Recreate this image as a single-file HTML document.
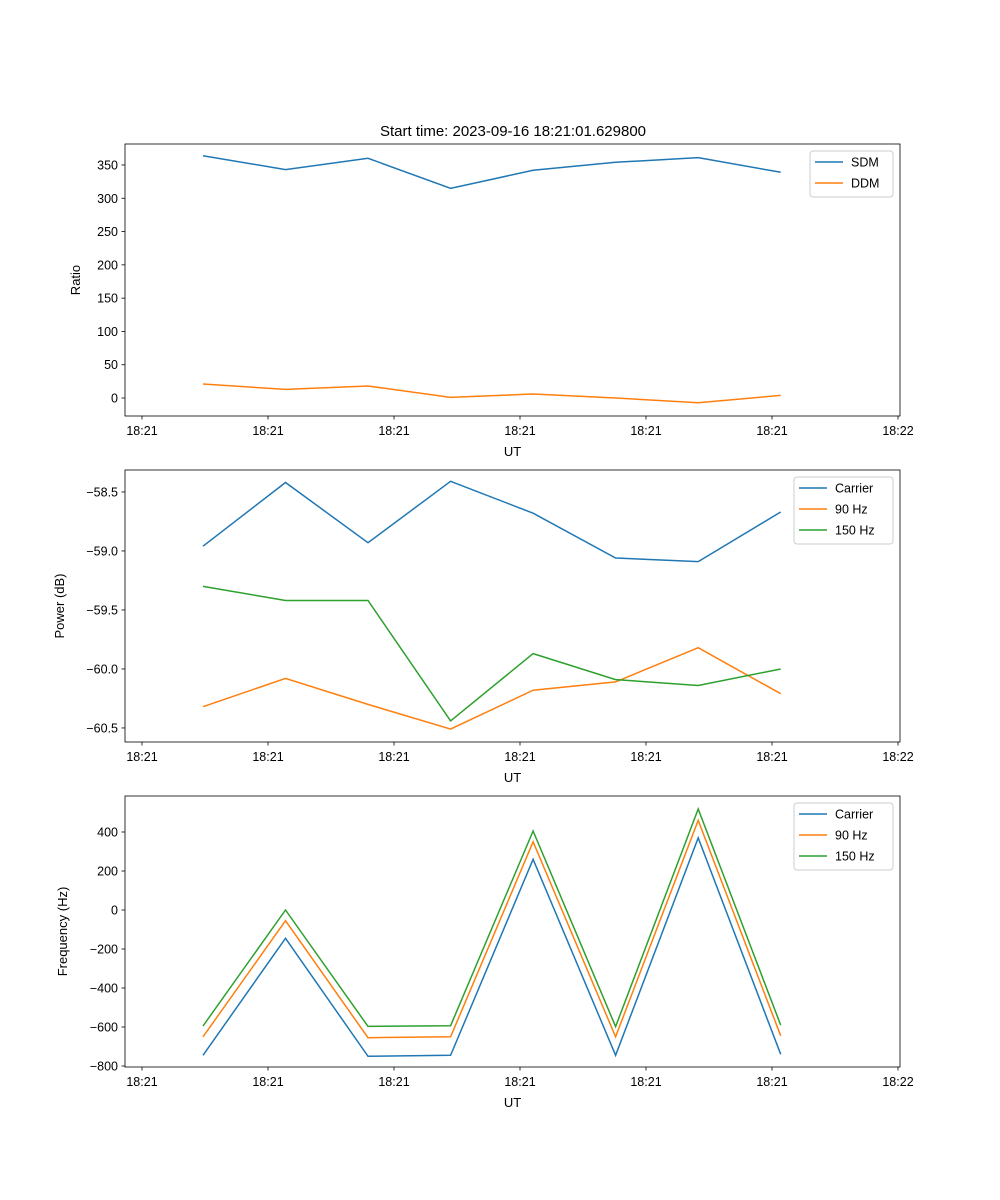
<!DOCTYPE html>
<html><head><meta charset="utf-8">
<style>
html,body{margin:0;padding:0;background:#fff;}
svg{display:block;font-family:"Liberation Sans","DejaVu Sans",sans-serif;}
</style></head>
<body>
<svg id="fig" width="1000" height="1200" viewBox="0 0 1000 1200" xmlns="http://www.w3.org/2000/svg">
<text x="513" y="136" font-size="15" text-anchor="middle">Start time: 2023-09-16 18:21:01.629800</text>
</svg>
<script>
// shared time axis (seconds after 18:21:00)
const times = [4.84, 11.39, 17.94, 24.49, 31.04, 37.59, 44.14, 50.69];
const xTickValues = [0, 10, 20, 30, 40, 50, 60];
const xTickLabels = ["18:21","18:21","18:21","18:21","18:21","18:21","18:22"];

// panel 1
const ratioTicks = [0, 50, 100, 150, 200, 250, 300, 350];
const sdm = [364, 343, 360, 315, 342, 354, 361, 339];
const ddm = [21, 13, 18, 1, 6, 0, -7, 4];
// panel 2
const powerTicks = [-58.5, -59.0, -59.5, -60.0, -60.5];
const powerTickLabels = ["\u221258.5","\u221259.0","\u221259.5","\u221260.0","\u221260.5"];
const powCarrier = [-58.96, -58.42, -58.93, -58.41, -58.68, -59.06, -59.09, -58.67];
const pow90 = [-60.32, -60.08, -60.30, -60.51, -60.18, -60.11, -59.82, -60.21];
const pow150 = [-59.30, -59.42, -59.42, -60.44, -59.87, -60.09, -60.14, -60.00];
// panel 3
const freqTicks = [400, 200, 0, -200, -400, -600, -800];
const freqCarrier = [-745, -145, -750, -745, 260, -745, 370, -740];
const freq90 = [-650, -55, -655, -650, 350, -650, 460, -645];
const freq150 = [-595, 0, -597, -593, 405, -598, 518, -590];

const NS = "http://www.w3.org/2000/svg";
const svg = document.getElementById('fig');
const C = ["#1f77b4", "#ff7f0e", "#2ca02c"];
function mk(tag, attrs, parent){
  const e = document.createElementNS(NS, tag);
  for (const k in attrs) e.setAttribute(k, attrs[k]);
  (parent||svg).appendChild(e); return e;
}
const L = 125, R = 900;
function xScale(t){ return 142 + t * 12.6; }

function panel(opt){
  const g = mk('g', {});
  
  
  const yS = v => opt.top + (opt.ymax - v) / (opt.ymax - opt.ymin) * (opt.bot - opt.top);
  opt.yticks.forEach((v, i) => {
    const y = yS(v);
    mk('line', {x1: L-3.5, x2: L, y1: y, y2: y, stroke: '#000', 'stroke-width': 0.8}, g);
    const t = mk('text', {x: L-7, y: y+4.5, 'font-size': 12.5, 'text-anchor': 'end'}, g);
    t.textContent = opt.ylabels ? opt.ylabels[i] : String(v).replace('-', '\u2212');
    
    
  });
  xTickValues.forEach((v, i) => {
    const x = xScale(v);
    mk('line', {x1: x, x2: x, y1: opt.bot, y2: opt.bot+3.5, stroke: '#000', 'stroke-width': 0.8}, g);
    const t = mk('text', {x: x, y: opt.bot+19, 'font-size': 12.5, 'text-anchor': 'middle'}, g);
    t.textContent = xTickLabels[i];
    
    
  });
  const xl = mk('text', {x: (L+R)/2, y: opt.bot+40, 'font-size': 13, 'text-anchor': 'middle'}, g);
  xl.textContent = 'UT';
  
  
  const cy = (opt.top+opt.bot)/2;
  const yl = mk('text', {x: opt.ylx, y: cy, 'font-size': 13, 'text-anchor': 'middle', transform: `rotate(-90 ${opt.ylx} ${cy})`}, g);
  yl.textContent = opt.ylabel;
  
  
  opt.series.forEach((s, k) => {
    const pts = s.vals.map((v, i) => xScale(times[i]).toFixed(1) + ',' + yS(v).toFixed(1)).join(' ');
    const p = mk('polyline', {points: pts, fill: 'none', stroke: C[k], 'stroke-width': 1.5}, g);
    
    
  });
  const frame = mk('rect', {x: L, y: opt.top, width: R-L, height: opt.bot-opt.top, fill: 'none', stroke: '#000', 'stroke-width': 0.8}, g);
  
  
  const lg = mk('g', {}, g);
  
  
  const lh = 4 + opt.series.length * 21;
  mk('rect', {x: opt.lx, y: opt.top+7, width: 893-opt.lx, height: lh, rx: 3, fill: '#fff', stroke: '#ccc', 'stroke-width': 1}, lg);
  opt.series.forEach((s, k) => {
    const y = opt.top + 7 + 11 + k*21;
    mk('line', {x1: opt.lx+5, x2: opt.lx+33, y1: y, y2: y, stroke: C[k], 'stroke-width': 1.5}, lg);
    const t = mk('text', {x: opt.lx+41, y: y+4.5, 'font-size': 12.5}, lg);
    t.textContent = s.label;
    
    
  });
}

panel({name: 'ratio-panel', top: 144, bot: 416, ymin: -27.0, ymax: 381.5, yticks: ratioTicks, ylabel: 'Ratio', ylx: 80, lx: 810,
  series: [{key: 'sdm', label: 'SDM', vals: sdm}, {key: 'ddm', label: 'DDM', vals: ddm}]});
panel({name: 'power-panel', top: 470, bot: 742, ymin: -60.619, ymax: -58.314, yticks: powerTicks, ylabels: powerTickLabels, ylabel: 'Power (dB)', ylx: 64, lx: 794,
  series: [{key: 'carrier', label: 'Carrier', vals: powCarrier}, {key: '90hz', label: '90 Hz', vals: pow90}, {key: '150hz', label: '150 Hz', vals: pow150}]});
panel({name: 'frequency-panel', top: 796, bot: 1067, ymin: -805, ymax: 584.6, yticks: freqTicks, ylabel: 'Frequency (Hz)', ylx: 67, lx: 794,
  series: [{key: 'carrier', label: 'Carrier', vals: freqCarrier}, {key: '90hz', label: '90 Hz', vals: freq90}, {key: '150hz', label: '150 Hz', vals: freq150}]});
</script>
</body></html>
